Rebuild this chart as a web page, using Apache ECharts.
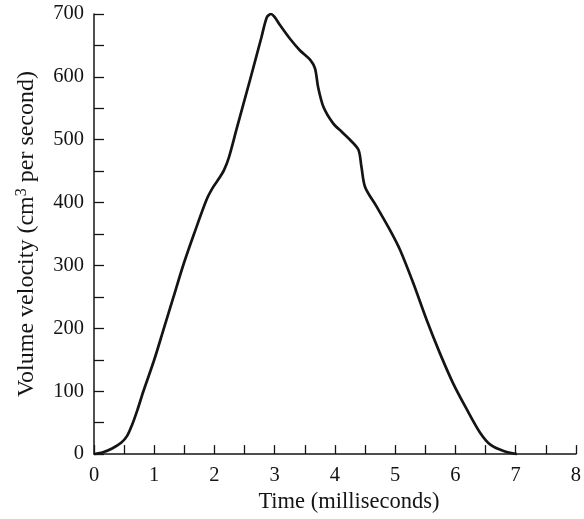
<!DOCTYPE html>
<html>
<head>
<meta charset="utf-8">
<script src="https://cdn.jsdelivr.net/npm/echarts@6/dist/echarts.min.js"></script>
<style>html,body{margin:0;padding:0;background:#fff;}#c{width:584px;height:519px;}</style>
</head>
<body>
<div id="c"></div>
<script>
const timeMs = [0, 0.15, 0.30, 0.45, 0.55, 0.63, 0.72, 0.82, 1.00, 1.16, 1.32, 1.48, 1.66, 1.87, 1.98, 2.08, 2.16, 2.24, 2.37, 2.59, 2.78, 2.87, 2.94, 3.00, 3.09, 3.25, 3.42, 3.59, 3.67, 3.72, 3.81, 3.97, 4.12, 4.25, 4.39, 4.44, 4.50, 4.69, 4.91, 5.08, 5.30, 5.52, 5.74, 5.96, 6.19, 6.41, 6.58, 6.80, 7.02];
const volumeVelocity = [0, 3, 9, 18, 29, 46, 70, 100, 150, 200, 250, 300, 350, 405, 425, 439, 452, 472, 518, 595, 663, 695, 700, 695, 682, 661, 642, 627, 613, 584, 552, 526, 512, 500, 484, 457, 425, 394, 357, 325, 272, 214, 161, 113, 71, 34, 15, 5, 0];
const xTitle = 'Time (milliseconds)';
const yTitle = 'Volume velocity (cm{sup|3} per second)';

const points = timeMs.map((t, i) => [t, volumeVelocity[i]]);
const font = '"Liberation Serif", "Times New Roman", serif';
const ink = '#141414';
const chart = echarts.init(document.getElementById('c'), null, {renderer: 'canvas'});
chart.setOption({
  animation: false,
  backgroundColor: '#fff',
  grid: {left: 94, right: 8, top: 14, bottom: 64, containLabel: false},
  xAxis: {
    type: 'value', min: 0, max: 8, interval: 1,
    name: xTitle, nameLocation: 'middle', nameGap: 34,
    nameTextStyle: {fontFamily: font, fontSize: 22.5, color: ink, padding: [0, 0, 0, 28]},
    axisLine: {show: true, onZero: false, lineStyle: {color: ink, width: 1.5}},
    axisTick: {show: true, inside: true, length: 9, lineStyle: {color: ink, width: 1.3}},
    minorTick: {show: true, splitNumber: 2, length: 9, lineStyle: {color: ink, width: 1.3}},
    axisLabel: {fontFamily: font, fontSize: 20.5, color: ink, margin: 11},
    splitLine: {show: false}
  },
  yAxis: {
    type: 'value', min: 0, max: 700, interval: 100,
    name: yTitle, nameLocation: 'middle', nameGap: 54, nameRotate: 90,
    nameTextStyle: {fontFamily: font, fontSize: 24, color: ink,
      rich: {sup: {fontFamily: font, fontSize: 16, color: ink, verticalAlign: 'top', padding: [0,0,10,0]}}},
    axisLine: {show: true, onZero: false, lineStyle: {color: ink, width: 1.5}},
    axisTick: {show: true, inside: true, length: 10, lineStyle: {color: ink, width: 1.3}},
    minorTick: {show: true, splitNumber: 2, length: 10, lineStyle: {color: ink, width: 1.3}},
    axisLabel: {fontFamily: font, fontSize: 20.5, color: ink, margin: 10},
    splitLine: {show: false}
  },
  series: [{
    type: 'line', data: points, smooth: 0.3, showSymbol: false,
    lineStyle: {color: ink, width: 2.7}
  }]
});
</script>
</body>
</html>
